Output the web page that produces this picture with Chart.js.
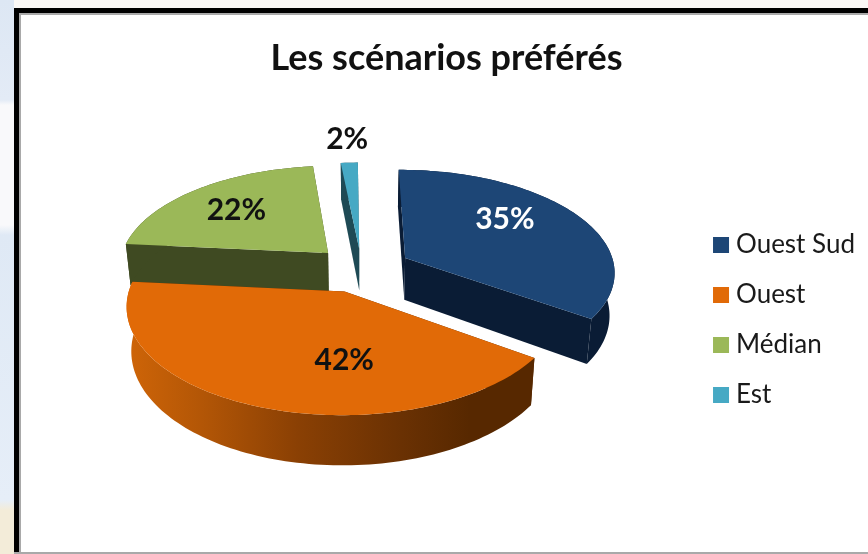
<!DOCTYPE html>
<html lang="fr">
<head>
<meta charset="utf-8">
<title>Les scénarios préférés</title>
<script src="https://cdn.jsdelivr.net/npm/chart.js@4/dist/chart.umd.min.js"></script>
<style>
  html, body { margin: 0; padding: 0; width: 868px; height: 554px; overflow: hidden; }
  body {
    position: relative;
    background:
      linear-gradient(to bottom, #dde7f4 0, #e3ebf6 100px, #f9f9fb 105px, #f9f9fb 225px, #dfe9f5 235px, #e6eef8 500px, #f3ecd9 510px, #f3ecd9 554px);
  }
  #top-strip { position: absolute; left: 14px; top: 0; width: 854px; height: 8px; background: #faf8f6; }
  #frame {
    position: absolute; left: 14px; top: 8px; width: 900px; height: 544px;
    background: #fff; border: solid #000; border-width: 5px 0 0 5px;
    box-shadow: inset 2px 2px 0 #a9a9a9, 0 2px 0 #a9a9a9;
    box-sizing: border-box;
  }
  #chart { position: absolute; left: 0; top: 0; }
</style>
</head>
<body>
<div id="top-strip"></div>
<div id="frame"></div>
<canvas id="chart" width="868" height="554"></canvas>
<script>
// Values (the thin slice is narrower than a full 2%, it shows rounded)
const categories = ["Ouest Sud", "Ouest", "Médian", "Est"];
const shares = [35, 42, 22, 1.5];

const topColors = ["#1d4676", "#e16a07", "#9bb858", "#46a9c4"];
const wallColors = ["#0a1c35", "#572800", "#3f4a22", "#1e4a55"];
const labelColors = ["#ffffff", "#111111", "#111111", "#111111"];
const explode = [50, 48, 48, 43];

// Label placement: share of the radius along the slice middle, then a nudge in px
const labelRadius = [0.5, 0.6, 0.5, 1.25];
const labelNudge = [[12, -16], [49, 3], [-23, -10], [0, -5]];

// Fake 3D settings
const squash = 0.485;     // vertical flattening of the pie
const perspective = 0.0006;
const depth = 42.5;
const pieLift = 51;       // legend stays centred on the chart area, the pie sits higher
const bottomShrink = 0.98;

function projector(arc) {
  const cx = arc.x, cy = arc.y - pieLift;
  return (gx, gy, low) => {
    const w = 1 / (1 - perspective * gy);
    let x = cx + gx * w;
    let y = cy + gy * squash * w;
    if (low) {
      x = cx + (x - cx) * bottomShrink;
      y += depth * w;
    }
    return [x, y];
  };
}

function arcPoints(arc) {
  const r = arc.outerRadius;
  const mid = (arc.startAngle + arc.endAngle) / 2;
  const off = arc.options.offset || 0;
  const ox = Math.cos(mid) * off, oy = Math.sin(mid) * off;
  const pts = [];
  const steps = Math.max(4, Math.round((arc.endAngle - arc.startAngle) * 40));
  for (let i = 0; i <= steps; i++) {
    const a = arc.startAngle + (arc.endAngle - arc.startAngle) * i / steps;
    pts.push([ox + Math.cos(a) * r, oy + Math.sin(a) * r]);
  }
  return { centre: [ox, oy], rim: pts, mid };
}

function fillPath(ctx, pts, style) {
  ctx.beginPath();
  pts.forEach((p, i) => (i ? ctx.lineTo(p[0], p[1]) : ctx.moveTo(p[0], p[1])));
  ctx.closePath();
  ctx.fillStyle = style;
  ctx.fill();
}

function rimStyle(ctx, index) {
  if (index !== 1) return wallColors[index];
  // the orange slice has a shaded rim, light on the left and dark on the right
  const g = ctx.createLinearGradient(126, 0, 470, 0);
  g.addColorStop(0, "#cf6508");
  g.addColorStop(0.22, "#b35606");
  g.addColorStop(0.5, "#8a4004");
  g.addColorStop(0.8, "#6a3103");
  g.addColorStop(1, "#572800");
  return g;
}

const pie3d = {
  id: "pie3d",
  beforeDatasetsDraw(chart) {
    const ctx = chart.ctx;
    const arcs = chart.getDatasetMeta(0).data;
    ctx.save();
    // far slices first so the orange one ends up in front
    [3, 2, 0, 1].forEach((i) => {
      const arc = arcs[i];
      const project = projector(arc);
      const { centre, rim } = arcPoints(arc);
      const first = rim[0], last = rim[rim.length - 1];
      const up = (p) => project(p[0], p[1], false);
      const low = (p) => project(p[0], p[1], true);
      // cut walls
      fillPath(ctx, [up(centre), up(first), low(first), low(centre)], wallColors[i]);
      fillPath(ctx, [up(centre), up(last), low(last), low(centre)], wallColors[i]);
      // outer rim
      fillPath(ctx, rim.map(up).concat(rim.slice().reverse().map(low)), rimStyle(ctx, i));
      // top face
      fillPath(ctx, [up(centre)].concat(rim.map(up)), topColors[i]);
    });
    // percent labels
    ctx.font = "bold 30px Lato";
    ctx.textAlign = "center";
    ctx.textBaseline = "middle";
    arcs.forEach((arc, i) => {
      const project = projector(arc);
      const { centre, mid } = arcPoints(arc);
      const lr = arc.outerRadius * labelRadius[i];
      const p = project(centre[0] + Math.cos(mid) * lr, centre[1] + Math.sin(mid) * lr, false);
      ctx.fillStyle = labelColors[i];
      ctx.fillText(Math.round(shares[i]) + "%", p[0] + labelNudge[i][0], p[1] + labelNudge[i][1]);
    });
    ctx.restore();
    return false;
  },
};

new Chart(document.getElementById("chart"), {
  type: "pie",
  data: {
    labels: categories,
    datasets: [{
      data: shares,
      backgroundColor: topColors,
      borderWidth: 0,
      offset: explode,
    }],
  },
  options: {
    responsive: false,
    animation: false,
    radius: 210,
    rotation: -0.5,
    layout: { padding: { left: 28, right: 3, top: 0, bottom: 0 } },
    plugins: {
      tooltip: { enabled: false },
      title: {
        display: true,
        text: "Les scénarios préférés",
        color: "#111111",
        font: { family: "Lato", size: 36, weight: "bold" },
        padding: { top: 37, bottom: 6 },
      },
      legend: {
        position: "right",
        fullSize: false,
        labels: {
          color: "#1a1a1a",
          font: { family: "Lato", size: 26 },
          usePointStyle: true,
          pointStyle: "rect",
          boxWidth: 4,
          boxHeight: 16,
          padding: 24,
        },
      },
    },
  },
  plugins: [pie3d],
});
</script>
</body>
</html>
